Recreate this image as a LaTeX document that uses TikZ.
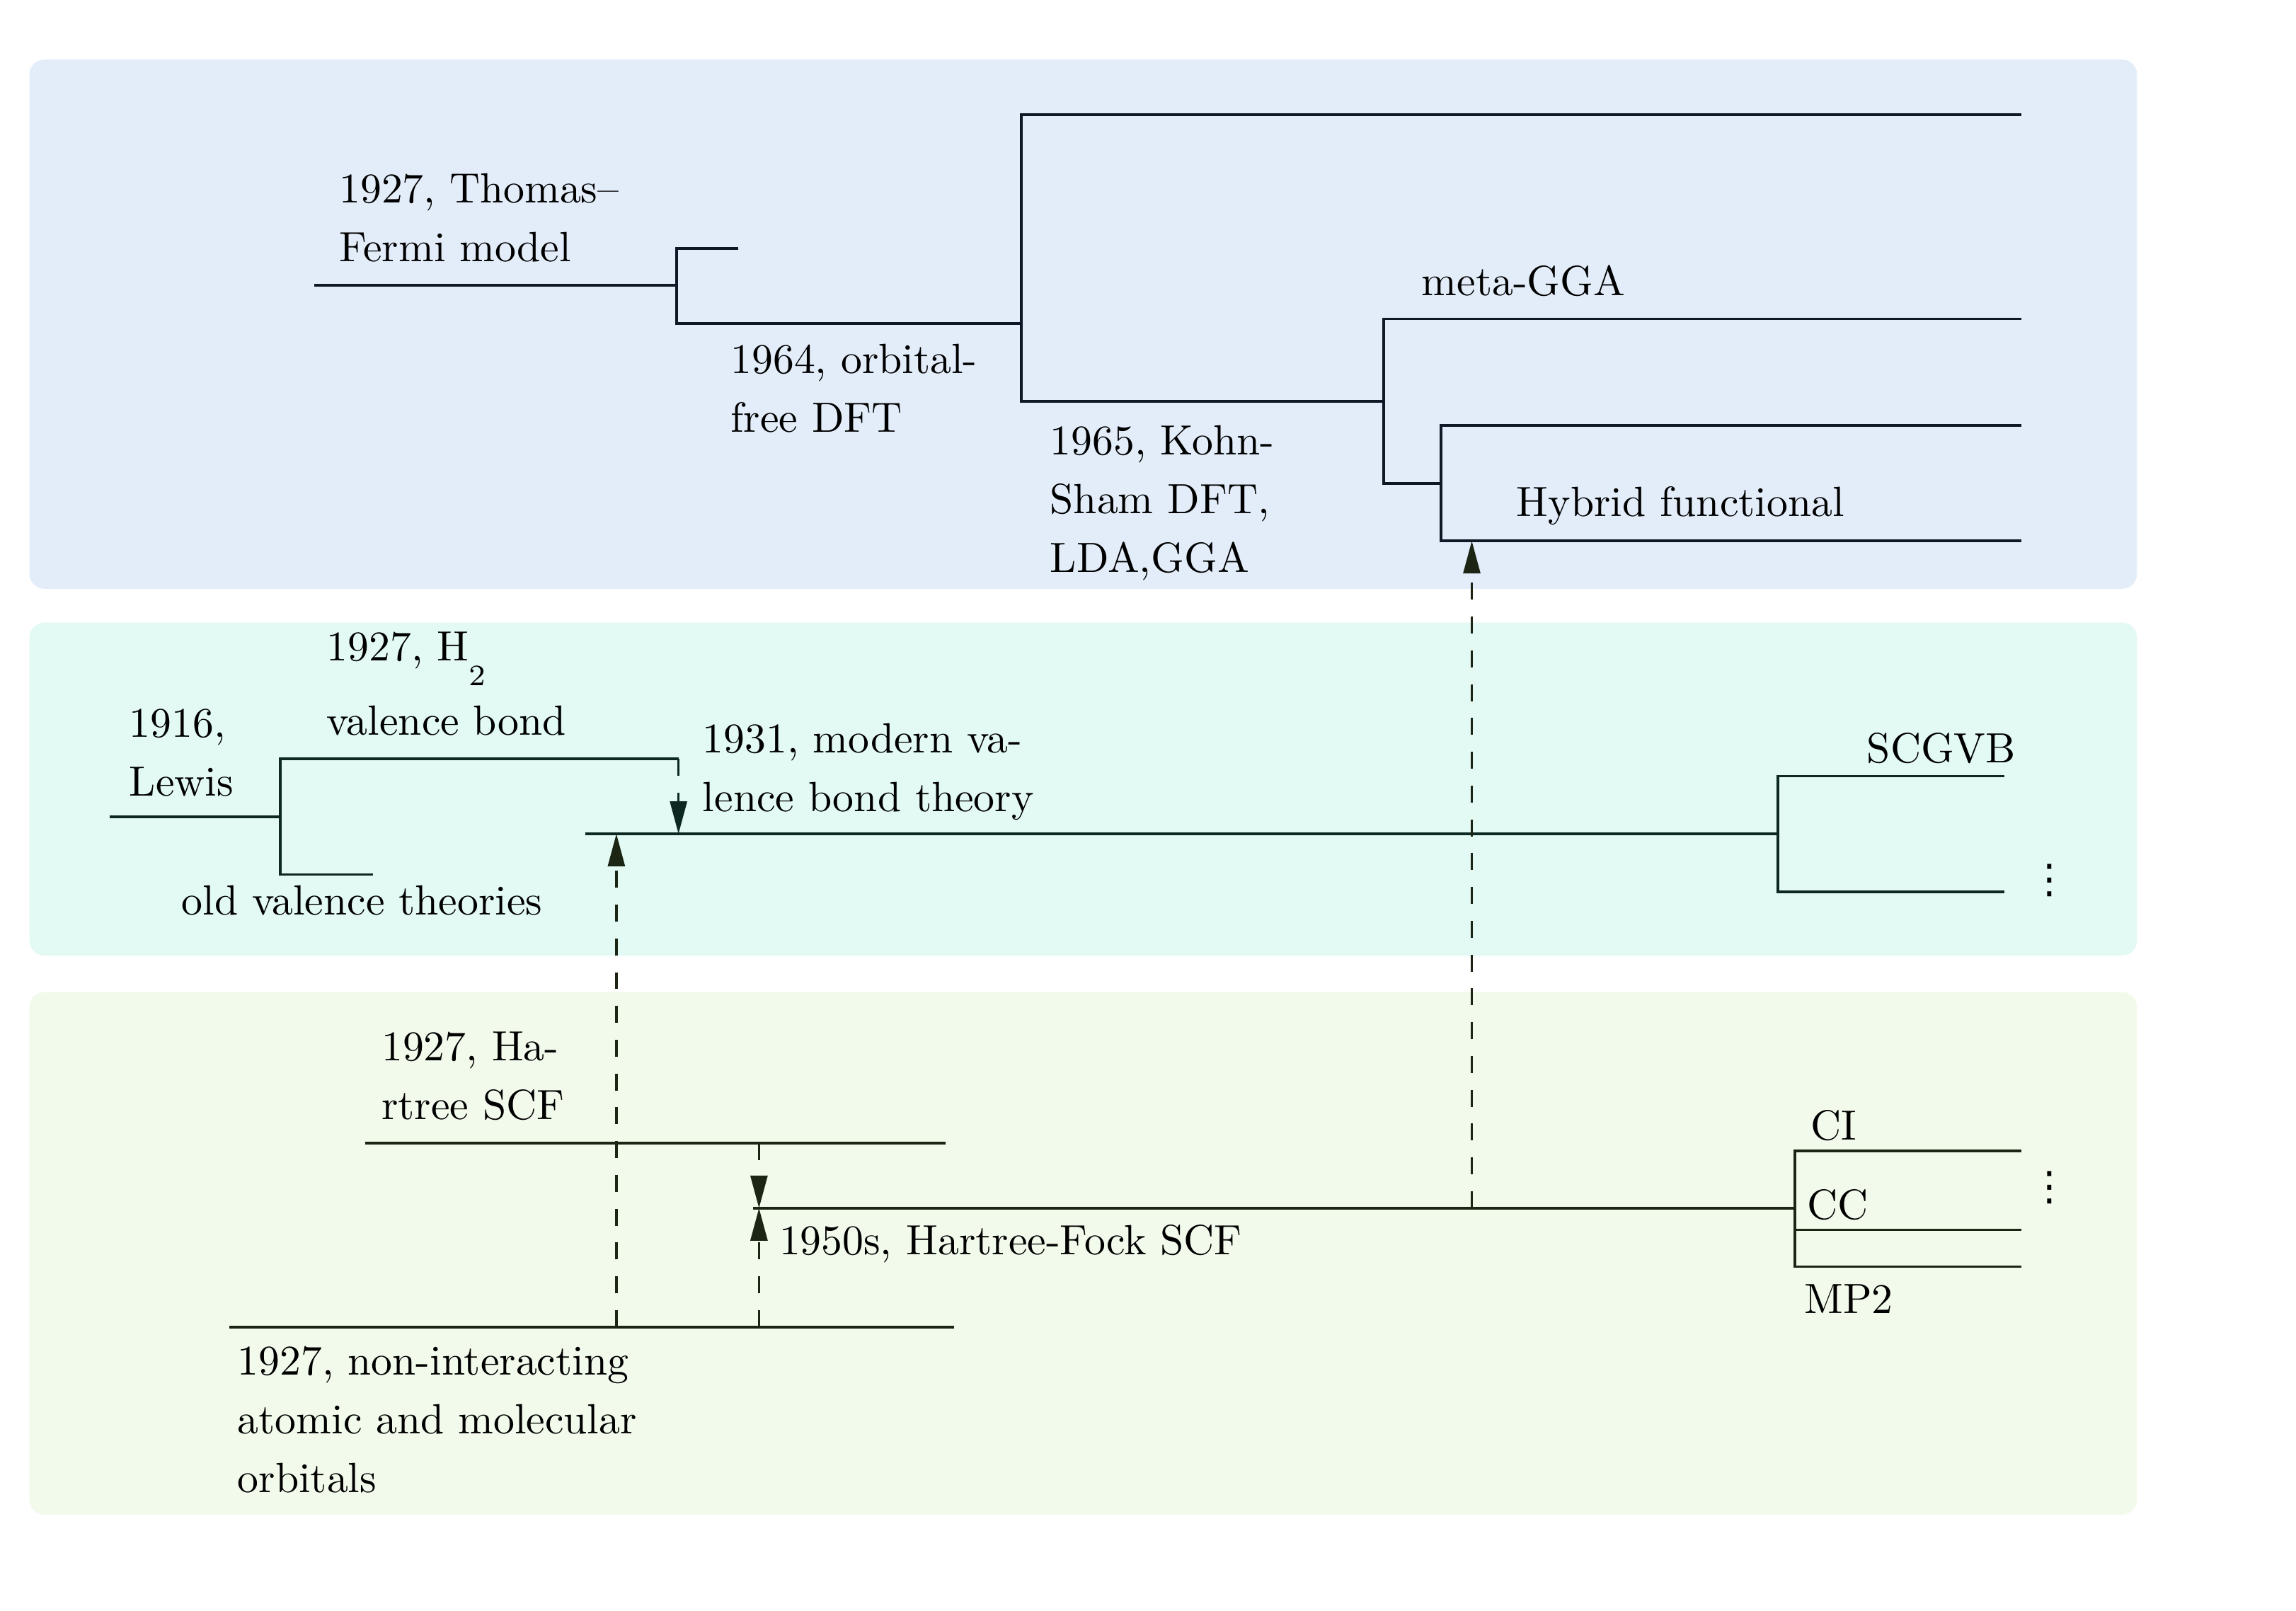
\documentclass[tikz,border=0pt]{standalone}
\usepackage{fontspec}
\newfontfamily\dejavu{DejaVu Sans}
\usetikzlibrary{arrows.meta}
\definecolor{bgblue}{RGB}{227,237,249}
\definecolor{bgcyan}{RGB}{227,250,244}
\definecolor{bggreen}{RGB}{242,250,236}
\definecolor{lnblue}{RGB}{14,24,38}
\definecolor{lncyan}{RGB}{12,40,32}
\definecolor{lngreen}{RGB}{28,36,20}
\newcommand{\mlines}[1]{\begin{tabular}[t]{@{}l@{}}#1\end{tabular}}
\begin{document}
\begin{tikzpicture}[x=0.3484pt,y=-0.3484pt,
  panel/.style={rounded corners=3.5pt},
  lbl/.style={anchor=base west,inner sep=0pt,outer sep=0pt,font=\fontsize{10}{13.9}\selectfont},
  vdotnode/.style={anchor=center,inner sep=0pt,outer sep=0pt,font=\dejavu\fontsize{9.5}{10}\selectfont},
  br/.style={line width=0.6pt},
  dsh/.style={line width=0.55pt,dash pattern=on 4pt off 4pt,-{Triangle[length=7.7pt,width=4pt]}}]
\path[use as bounding box] (0,0) rectangle (1560,1094.5);
% panels
\fill[bgblue,panel] (20,40.5) rectangle (1452,400);
\fill[bgcyan,panel] (20,423) rectangle (1452,649.2);
\fill[bggreen,panel] (20,674) rectangle (1452,1029);
% ---- DFT branch (blue)
\coordinate (tf0) at (213.6,193.8);
\coordinate (tf1) at (459.6,193.8);
\coordinate (j1t) at (459.6,168.7);
\coordinate (j1s) at (501.8,168.7);
\coordinate (j1b) at (459.6,219.7);
\coordinate (of1) at (694,219.7);
\coordinate (j2t) at (694,78);
\coordinate (top1) at (1373.4,78);
\coordinate (j2b) at (694,272.6);
\coordinate (ks1) at (940,272.6);
\coordinate (j3t) at (940,216.7);
\coordinate (meta1) at (1373.4,216.7);
\coordinate (j3b) at (940,328.4);
\coordinate (j4) at (979,328.4);
\coordinate (j4t) at (979,289);
\coordinate (j4b) at (979,367.5);
\coordinate (hy1) at (1373.4,289);
\coordinate (hy2) at (1373.4,367.5);
\coordinate (hyArr) at (1000,367.5);
\draw[br,lnblue] (tf0) -- (tf1);
\draw[br,lnblue] (j1s) -- (j1t) -- (j1b) -- (of1);
\draw[br,lnblue] (top1) -- (j2t) -- (j2b) -- (ks1);
\draw[br,lnblue] (meta1) -- (j3t) -- (j3b) -- (j4);
\draw[br,lnblue] (hy1) -- (j4t) -- (j4b) -- (hy2);
% ---- valence bond branch (cyan)
\coordinate (lw0) at (74.5,555);
\coordinate (lw1) at (190.3,555);
\coordinate (k1t) at (190.3,515.5);
\coordinate (h2e) at (461,515.5);
\coordinate (k1b) at (190.3,594.2);
\coordinate (olde) at (253.4,594.2);
\coordinate (vb0) at (397.5,566.5);
\coordinate (vbArr) at (461,566.5);
\coordinate (vbArr2) at (418.8,566.5);
\coordinate (vb1) at (1208,566.5);
\coordinate (k2t) at (1208,527.2);
\coordinate (k2b) at (1208,605.9);
\coordinate (scg1) at (1361.8,527.2);
\coordinate (scg2) at (1361.8,605.9);
\draw[br,lncyan] (lw0) -- (lw1);
\draw[br,lncyan] (h2e) -- (k1t) -- (k1b) -- (olde);
\draw[br,lncyan] (vb0) -- (vb1);
\draw[br,lncyan] (scg1) -- (k2t) -- (k2b) -- (scg2);
\draw[dsh,lncyan] (h2e) -- (vbArr);
% ---- wave function branch (green)
\coordinate (ha0) at (248,776.6);
\coordinate (ha1) at (642.4,776.6);
\coordinate (nb0) at (156,901.6);
\coordinate (nb1) at (648.3,901.6);
\coordinate (hf0) at (511.7,820.8);
\coordinate (hf1) at (1219.5,820.8);
\coordinate (haArr) at (515.7,776.6);
\coordinate (hfArr) at (515.7,820.8);
\coordinate (nbArr) at (515.7,901.6);
\coordinate (nbArr2) at (418.8,901.6);
\coordinate (hfArr2) at (1000,820.8);
\coordinate (k3t) at (1219.5,781.8);
\coordinate (k3b) at (1219.5,860.6);
\coordinate (ci1) at (1373.4,781.8);
\coordinate (cc0) at (1219.5,835.6);
\coordinate (cc1) at (1373.4,835.6);
\coordinate (mp1) at (1373.4,860.6);
\draw[br,lngreen] (ha0) -- (ha1);
\draw[br,lngreen] (nb0) -- (nb1);
\draw[br,lngreen] (hf0) -- (hf1);
\draw[br,lngreen] (ci1) -- (k3t) -- (k3b) -- (mp1);
\draw[br,lngreen] (cc0) -- (cc1);
\draw[dsh,lngreen] (haArr) -- (hfArr);
\draw[dsh,lngreen] (nbArr) -- (hfArr);
\draw[dsh,lngreen] (nbArr2) -- (vbArr2);
\draw[dsh,lngreen] (hfArr2) -- (hyArr);
% ---- labels
\node[lbl] (tTF) at (230.5,137.6) {\mlines{1927, Thomas--\\Fermi model}};
\node[lbl] (tOF) at (496.5,253.7) {\mlines{1964, orbital-\\free DFT}};
\node[lbl] (tKS) at (713.5,309) {\mlines{1965, Kohn-\\Sham DFT,\\LDA,GGA}};
\node[lbl] (tMeta) at (966,201) {meta-GGA};
\node[lbl] (tHy) at (1030.5,350.8) {Hybrid functional};
\node[lbl] (tLw) at (88,501) {\mlines{1916,\\Lewis}};
\node[lbl] (tH2) at (222,449) {\mlines{1927, H\smash{\raisebox{-5.8pt}{\fontsize{7}{8}\selectfont 2}}\\[3.7pt]valence bond}};
\node[lbl] (tMVB) at (477.5,511.6) {\mlines{1931, modern va-\\lence bond theory}};
\node[lbl] (tOld) at (123.5,621.6) {old valence theories};
\node[lbl] (tSC) at (1268.5,518) {SCGVB};
\node[vdotnode] (dots1) at (1392.5,598.2) {⋮};
\node[lbl] (tHa) at (259.3,720.5) {\mlines{1927, Ha-\\rtree SCF}};
\node[lbl] (tHF) at (529.5,852.6) {1950s, Hartree-Fock SCF};
\node[lbl] (tNI) at (161.5,934.3) {\mlines{1927, non-interacting\\atomic and molecular\\orbitals}};
\node[lbl] (tCI) at (1230.5,774.3) {CI};
\node[lbl] (tCC) at (1228,828.5) {CC};
\node[lbl] (tMP) at (1226,892.5) {MP2};
\node[vdotnode] (dots2) at (1392.6,807) {⋮};
\end{tikzpicture}
\end{document}
